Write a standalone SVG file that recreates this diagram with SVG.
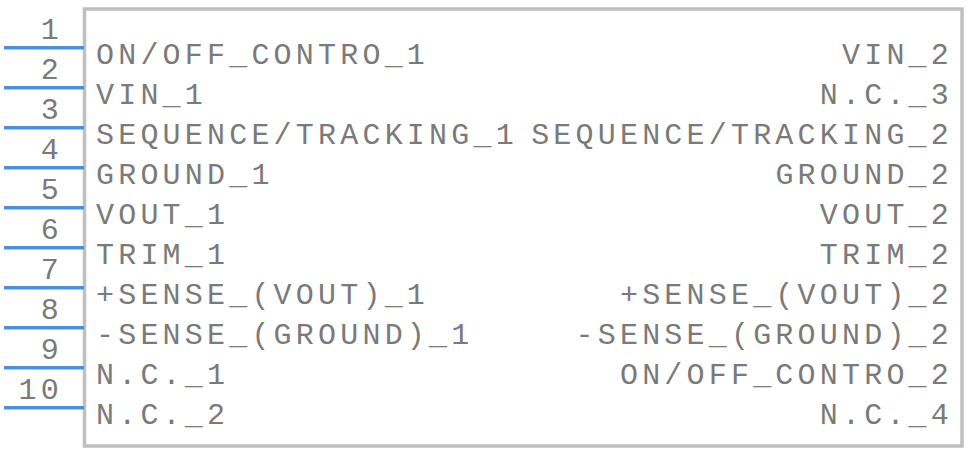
<svg xmlns="http://www.w3.org/2000/svg" width="968" height="452" viewBox="0 0 968 452">
<style>
.t{font-family:"Courier New","Nimbus Mono PS","FreeMono","Liberation Mono",monospace;font-size:30px;letter-spacing:4.2px;fill:#7a7a7a}
.l{text-anchor:start}
.r{text-anchor:end}
.pin{stroke:#4a8fe0;stroke-width:3.5}
</style>
<rect width="968" height="452" fill="#ffffff"/>
<g id="body"><rect x="84.5" y="9" width="877.5" height="437" fill="none" stroke="#bfbfbf" stroke-width="3.5"/></g>
<g id="pins">
<line class="pin" x1="4" y1="47.7" x2="84" y2="47.7"/>
<line class="pin" x1="4" y1="87.7" x2="84" y2="87.7"/>
<line class="pin" x1="4" y1="127.7" x2="84" y2="127.7"/>
<line class="pin" x1="4" y1="167.7" x2="84" y2="167.7"/>
<line class="pin" x1="4" y1="207.7" x2="84" y2="207.7"/>
<line class="pin" x1="4" y1="247.7" x2="84" y2="247.7"/>
<line class="pin" x1="4" y1="287.7" x2="84" y2="287.7"/>
<line class="pin" x1="4" y1="327.7" x2="84" y2="327.7"/>
<line class="pin" x1="4" y1="367.7" x2="84" y2="367.7"/>
<line class="pin" x1="4" y1="407.7" x2="84" y2="407.7"/>
</g>
<g id="pin-numbers" class="t r">
<text x="63" y="39.3">1</text>
<text x="63" y="79.3">2</text>
<text x="63" y="119.3">3</text>
<text x="63" y="159.3">4</text>
<text x="63" y="199.3">5</text>
<text x="63" y="239.3">6</text>
<text x="63" y="279.3">7</text>
<text x="63" y="319.3">8</text>
<text x="63" y="359.3">9</text>
<text x="63" y="399.3">10</text>
</g>
<g id="left-labels" class="t l">
<text x="96" y="63.5">ON/OFF_CONTRO_1</text>
<text x="96" y="103.5">VIN_1</text>
<text x="96" y="143.5">SEQUENCE/TRACKING_1</text>
<text x="96" y="183.5">GROUND_1</text>
<text x="96" y="223.5">VOUT_1</text>
<text x="96" y="263.5">TRIM_1</text>
<text x="96" y="303.5">+SENSE_(VOUT)_1</text>
<text x="96" y="343.5">-SENSE_(GROUND)_1</text>
<text x="96" y="383.5">N.C._1</text>
<text x="96" y="423.5">N.C._2</text>
</g>
<g id="right-labels" class="t r">
<text x="953" y="63.5">VIN_2</text>
<text x="953" y="103.5">N.C._3</text>
<text x="953" y="143.5">SEQUENCE/TRACKING_2</text>
<text x="953" y="183.5">GROUND_2</text>
<text x="953" y="223.5">VOUT_2</text>
<text x="953" y="263.5">TRIM_2</text>
<text x="953" y="303.5">+SENSE_(VOUT)_2</text>
<text x="953" y="343.5">-SENSE_(GROUND)_2</text>
<text x="953" y="383.5">ON/OFF_CONTRO_2</text>
<text x="953" y="423.5">N.C._4</text>
</g>
</svg>
